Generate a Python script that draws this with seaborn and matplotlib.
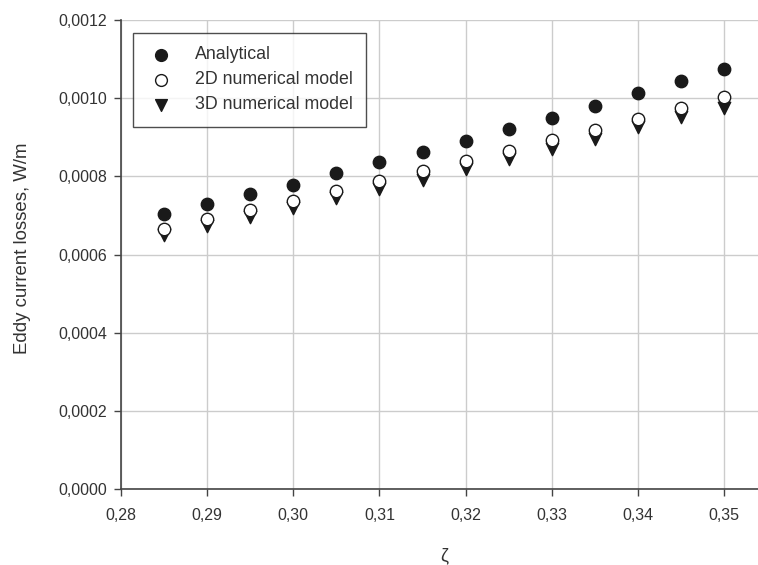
import matplotlib
matplotlib.use("Agg")
import matplotlib.pyplot as plt
import seaborn as sns
import pandas as pd
from matplotlib.ticker import FuncFormatter, MultipleLocator

zeta = [0.285, 0.29, 0.295, 0.30, 0.305, 0.31, 0.315, 0.32, 0.325, 0.33, 0.335, 0.34, 0.345, 0.35]
analytical = [0.000703, 0.000728, 0.000754, 0.000779, 0.000808, 0.000836, 0.000862,
              0.000891, 0.000921, 0.000950, 0.000980, 0.001012, 0.001043, 0.001074]
num2d = [0.000664, 0.000690, 0.000713, 0.000738, 0.000762, 0.000787, 0.000813,
         0.000839, 0.000865, 0.000892, 0.000919, 0.000946, 0.000974, 0.001004]
num3d = [0.000649, 0.000672, 0.000695, 0.000718, 0.000744, 0.000767, 0.000790,
         0.000820, 0.000844, 0.000869, 0.000895, 0.000925, 0.000951, 0.000976]
series_names = ["Analytical", "2D numerical model", "3D numerical model"]

rows = []
for name, vals in zip(series_names, [analytical, num2d, num3d]):
    for z, v in zip(zeta, vals):
        rows.append({"zeta": z, "loss": v, "series": name})
df = pd.DataFrame(rows)

sns.set_style("white")
plt.rcParams['font.family'] = ['Liberation Sans', 'DejaVu Sans']

fig = plt.figure(figsize=(7.58, 5.65), dpi=100)
ax = fig.add_axes([0.1596, 0.1345, 0.8404, 0.8301])

styles = {
    "Analytical": dict(marker="o", facecolor="#1a1a1a", edgecolor="#1a1a1a"),
    "2D numerical model": dict(marker="o", facecolor="white", edgecolor="#1a1a1a"),
    "3D numerical model": dict(marker="v", facecolor="#1a1a1a", edgecolor="#1a1a1a"),
}
for name in ["3D numerical model", "2D numerical model", "Analytical"]:
    st = styles[name]
    sub = df[df["series"] == name]
    sns.scatterplot(data=sub, x="zeta", y="loss", ax=ax, marker=st["marker"],
                    color=st["facecolor"], edgecolor=st["edgecolor"], linewidth=1.0,
                    s=80, label=name, zorder=3)

ax.set_xlim(0.28, 0.35393)
ax.set_ylim(0, 0.0012)
ax.xaxis.set_major_locator(MultipleLocator(0.01))
ax.yaxis.set_major_locator(MultipleLocator(0.0002))
ax.xaxis.set_major_formatter(FuncFormatter(lambda v, p: f"{v:.2f}".replace(".", ",")))
ax.yaxis.set_major_formatter(FuncFormatter(lambda v, p: f"{v:.4f}".replace(".", ",")))
ax.grid(True, color="#cccccc", linewidth=1.0)
ax.set_axisbelow(True)
for s in ["top", "right"]:
    ax.spines[s].set_visible(False)
for s in ["left", "bottom"]:
    ax.spines[s].set_color("#444444")
    ax.spines[s].set_linewidth(1.2)
ax.tick_params(axis="both", which="major", direction="out", length=5, width=1,
               color="#444444", labelsize=11.5, labelcolor="#333333", left=True, bottom=True)
ax.tick_params(axis="y", pad=5)
ax.tick_params(axis="x", pad=9)

ax.set_xlabel("ζ", fontsize=13, color="#333333")
ax.set_ylabel("Eddy current losses, W/m", fontsize=13.4, color="#333333")
ax.xaxis.set_label_coords(0.507, -0.143)
ax.xaxis.label.set_va("center")
ax.yaxis.set_label_coords(-0.154, 0.514)
ax.yaxis.label.set_va("center")

handles, labels = ax.get_legend_handles_labels()
order = [labels.index(n) for n in series_names]
leg = ax.legend([handles[i] for i in order], [labels[i] for i in order],
                loc="upper left", bbox_to_anchor=(12 / 637, 1 - 13 / 469), frameon=True,
                fancybox=False, edgecolor="#222222", fontsize=12.8, borderpad=0.75,
                handletextpad=1.05, labelspacing=0.45, borderaxespad=0, handlelength=1.7,
                markerscale=0.95)
leg.get_frame().set_linewidth(1.0)
for t in leg.get_texts():
    t.set_color("#333333")

fig.savefig("out.png", dpi=100)
